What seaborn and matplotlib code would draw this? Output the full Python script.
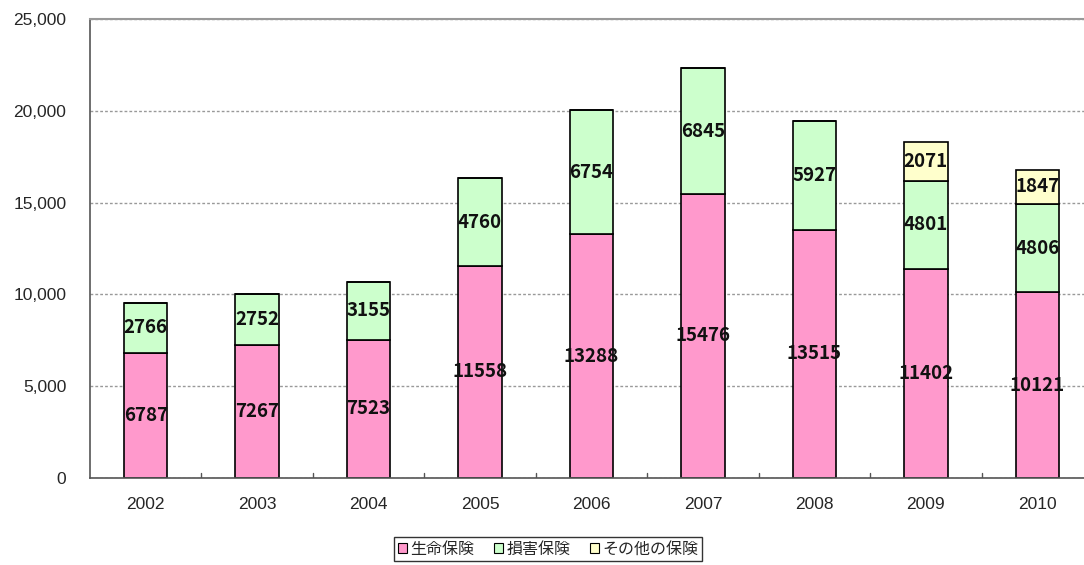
import matplotlib
matplotlib.use("Agg")
import matplotlib.pyplot as plt
import seaborn as sns
import pandas as pd
import numpy as np
from matplotlib.patches import Patch

years = ["2002", "2003", "2004", "2005", "2006", "2007", "2008", "2009", "2010"]
life = [6787, 7267, 7523, 11558, 13288, 15476, 13515, 11402, 10121]
nonlife = [2766, 2752, 3155, 4760, 6754, 6845, 5927, 4801, 4806]
other = [0, 0, 0, 0, 0, 0, 0, 2071, 1847]
series_names = ["生命保険", "損害保険", "その他の保険"]
colors = ["#FF99CC", "#CCFFCC", "#FFFFCC"]

sns.set_style("white")
plt.rcParams['font.family'] = ['Noto Sans CJK JP', 'DejaVu Sans']

fig = plt.figure(figsize=(10.84, 5.65), dpi=100)
W, H = 1084, 565
ax = fig.add_axes([90 / W, 87 / H, 1003 / W, 459 / H])

df = pd.DataFrame({"year": years, "life": life, "nonlife": nonlife, "other": other})
bottoms = np.zeros(len(years))
for col, name, c in zip(["life", "nonlife", "other"], series_names, colors):
    vals = df[col].to_numpy()
    sns.barplot(data=df, x="year", y=col, ax=ax, color=c, width=0.39,
                bottom=bottoms, edgecolor="black", linewidth=1.2, saturation=1)
    for i, v in enumerate(vals):
        if v > 0:
            ax.text(i, bottoms[i] + v / 2, str(v), ha="center", va="center",
                    fontsize=13.5, fontweight="bold", color="#111111")
    bottoms = bottoms + vals

ax.set_xlim(-0.5, len(years) - 0.5)
ax.set_ylim(0, 25000)
ax.set_yticks(range(0, 25001, 5000))
ax.set_yticklabels([f"{v:,}" for v in range(0, 25001, 5000)],
                   fontsize=12.5, family="Liberation Sans")
for lab in ax.get_xticklabels():
    lab.set_family("Liberation Sans")
    lab.set_fontsize(12.5)
ax.tick_params(axis="y", length=0, pad=17)
ax.tick_params(axis="x", length=0, pad=14)
ax.set_xlabel("")
ax.set_ylabel("")
ax.yaxis.grid(True, linestyle=(0, (2, 1.5)), color="#999999", linewidth=1)
ax.set_axisbelow(True)
for s in ["left", "bottom"]:
    ax.spines[s].set_color("#555555")
    ax.spines[s].set_linewidth(1.2)
ax.spines["top"].set_color("#999999")
ax.spines["top"].set_linewidth(1.5)
ax.spines["right"].set_visible(False)
for i in range(1, len(years)):
    ax.plot([i - 0.5, i - 0.5], [0, 250], color="#555555", linewidth=1)

handles = [Patch(facecolor=c, edgecolor="black", linewidth=0.8) for c in colors]
fig.legend(handles, series_names, loc="center", bbox_to_anchor=(548 / W, 1 - 549 / H),
           ncol=3, frameon=True, fancybox=False, edgecolor="black", fontsize=11.5,
           handlelength=0.6, handleheight=0.6, handletextpad=0.2, columnspacing=1.2,
           borderpad=0.2)

fig.savefig("out.png", dpi=100)
